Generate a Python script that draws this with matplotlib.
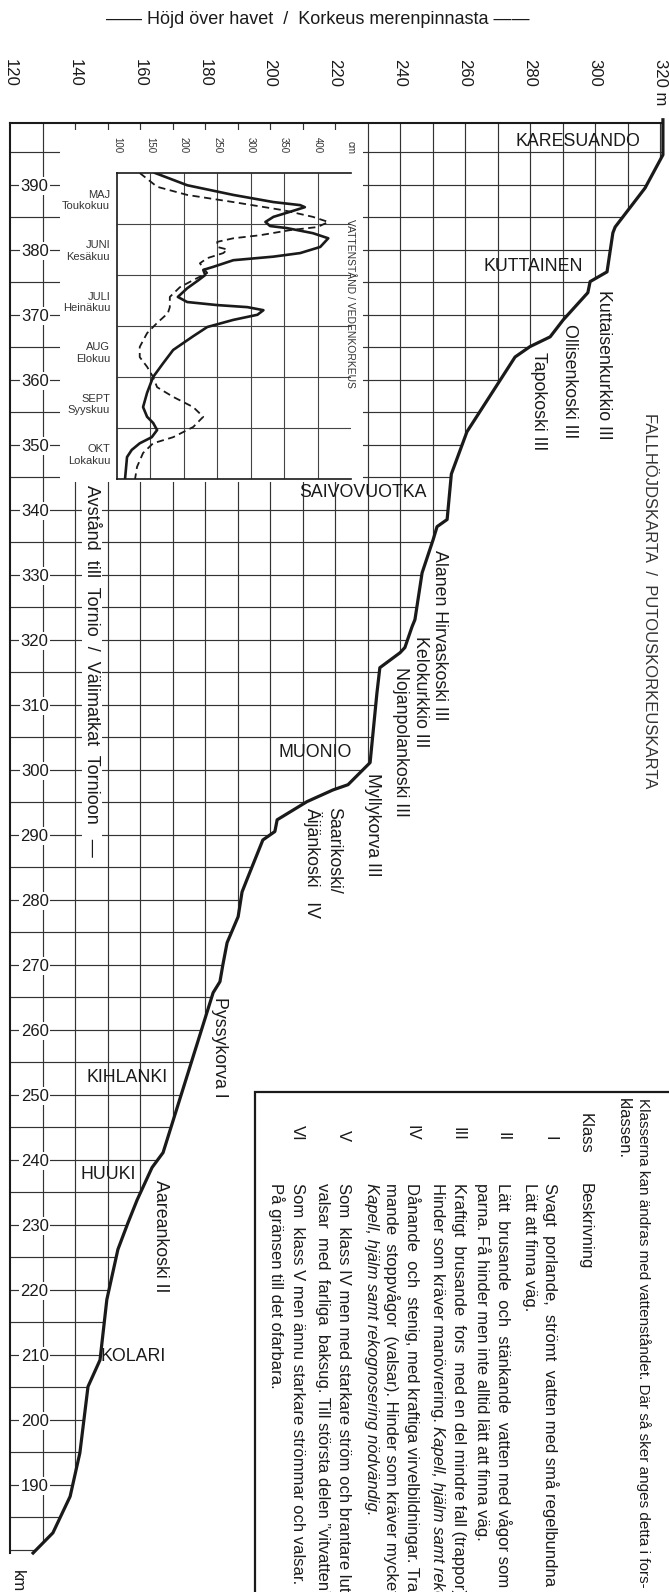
import numpy as np
import matplotlib
matplotlib.use('Agg')
import matplotlib.pyplot as plt
from matplotlib.patches import Polygon, Rectangle
from matplotlib.text import Annotation

plt.rcParams['font.family'] = ['Liberation Sans', 'DejaVu Sans']

# --- data -----------------------------------------------------------------
# river profile: distance to Tornio (km) and height above sea level (m)
profile_km = [400, 394.6, 389.5, 383.5, 382.6, 376.6, 375.1, 373.4, 369.2, 366.6,
              365.1, 363.5, 352.0, 345.5, 338.5, 337.4, 335.4, 330.3, 323.1, 322.0,
              318.8, 318.0, 315.7, 311.8, 301.1, 297.7, 296.9, 295.1, 292.3, 290.5,
              289.2, 283.1, 281.2, 277.4, 273.4, 270.0, 267.4, 265.7, 241.1, 238.8,
              233.8, 230.3, 226.2, 218.5, 209.2, 208.2, 205.1, 194.9, 188.2, 182.6,
              179.5]
profile_m = [320.9, 320.9, 315.4, 306.2, 305.5, 303.7, 298.5, 297.8, 290.2, 286.2,
             280.0, 275.4, 260.6, 255.8, 254.5, 251.4, 250.2, 246.8, 244.6, 243.7,
             241.5, 240.0, 233.8, 232.9, 230.8, 224.0, 219.4, 211.4, 202.2, 201.5,
             197.8, 192.9, 191.4, 190.2, 186.8, 185.5, 184.6, 182.5, 167.1, 163.7,
             159.1, 156.3, 153.2, 149.8, 147.7, 146.8, 144.0, 141.5, 138.5, 133.2,
             127.1]

height_ticks = [120, 140, 160, 180, 200, 220, 240, 260, 280, 300, 320]
height_labels = ['120', '140', '160', '180', '200', '220', '240', '260', '280', '300', '320 m']
km_ticks = list(range(190, 391, 10))

# water level inset: months since 1 May, level in cm
months = ['MAJ\nToukokuu', 'JUNI\nKesäkuu', 'JULI\nHeinäkuu',
          'AUG\nElokuu', 'SEPT\nSyyskuu', 'OKT\nLokakuu']
level_ticks = [100, 150, 200, 250, 300, 350, 400]
solid_t = [0.0, 0.24, 0.43, 0.57, 0.63, 0.67, 0.76, 0.86, 0.96, 1.04, 1.08, 1.18,
           1.28, 1.45, 1.57, 1.64, 1.71, 1.84, 1.90, 2.0, 2.1, 2.26, 2.43, 2.53,
           2.59, 2.63, 2.69, 2.78, 2.88, 3.02, 3.2, 3.47, 3.73, 4.0, 4.31, 4.59,
           4.78, 4.9, 5.04, 5.18, 5.3, 5.43, 5.57, 6.0]
solid_cm = [157, 205, 274, 334, 374, 381, 359, 334, 322, 329, 354, 393,
            416, 404, 374, 334, 274, 244, 229, 232, 222, 205, 191, 205,
            250, 295, 319, 310, 274, 235, 214, 184, 169, 154, 145, 139,
            145, 154, 160, 152, 134, 122, 115, 112]
dashed_t = [0.0, 0.27, 0.43, 0.57, 0.73, 0.86, 0.96, 1.06, 1.12, 1.22, 1.28, 1.35,
            1.45, 1.5, 1.57, 1.67, 1.77, 1.86, 1.96, 2.1, 2.24, 2.43, 2.63, 2.75,
            2.94, 3.14, 3.41, 3.61, 3.8, 4.0, 4.2, 4.39, 4.59, 4.78, 4.98, 5.18,
            5.3, 5.49, 5.76, 6.0]
dashed_cm = [134, 160, 205, 274, 349, 393, 416, 400, 359, 314, 274, 250,
             250, 265, 259, 235, 224, 229, 235, 214, 194, 179, 179, 176,
             160, 145, 134, 134, 145, 154, 160, 184, 214, 229, 214, 184,
             154, 139, 130, 127]

towns = ['KARESUANDO', 'KUTTAINEN', 'SAIVOVUOTKA', 'MUONIO', 'KIHLANKI', 'HUUKI', 'KOLARI']
rapids = ['Kuttaisenkurkkio III', 'Ollisenkoski III', 'Tapokoski III',
          'Alanen Hirvaskoski III', 'Kelokurkkio III', 'Nojanpolankoski III',
          'Myllykorva III', 'Saarikoski/\nÄijänkoski   IV', 'Pyssykorva I',
          'Aareankoski II']

classes = ['I', 'II', 'III', 'IV', 'V', 'VI']
class_text = [
    ['Svagt porlande, strömt vatten med små regelbundna', 'Lätt att finna väg.'],
    ['Lätt brusande och stänkande vatten med vågor som',
     'parna. Få hinder men inte alltid lätt att finna väg.'],
    ['Kraftigt brusande fors med en del mindre fall (trappor).',
     'Hinder som kräver manövrering. '],
    ['Dånande och stenig, med kraftiga virvelbildningar. Tra-',
     'mande stoppvågor (valsar). Hinder som kräver mycket'],
    ['Som klass IV men med starkare ström och brantare lut-',
     'valsar med farliga baksug. Till största delen \u201dvitvatten\u201d.'],
    ['Som klass V men ännu starkare strömmar och valsar.', 'På gränsen till det ofarbara.'],
]

# --- layout ---------------------------------------------------------------
W, H = 669, 1592
INK = '#1a1a1a'


def fx(x):
    return x / W


def fy(y):
    return 1 - y / H


fig = plt.figure(figsize=(W / 100, H / 100), dpi=100)
renderer = fig.canvas.get_renderer()

ax = fig.add_axes([fx(10), fy(1553), 653 / W, 1430 / H])
ax.set_xlim(120, 120 + 653 / 3.25)
ax.set_ylim(179.5, 399.5)
ax.patch.set_alpha(0)
for s in ['right', 'bottom']:
    ax.spines[s].set_visible(False)
for s in ['left', 'top']:
    ax.spines[s].set_linewidth(1.5)
    ax.spines[s].set_color(INK)

# grid only below the profile
clip = Polygon([(120, 399.5)] + list(zip(profile_m, profile_km)) + [(120, profile_km[-1])],
               closed=True, transform=ax.transData)
vl = ax.vlines(np.arange(130, 321, 10), 179.5, 399.5, color='#333333', lw=0.85, zorder=1)
hl = ax.hlines(np.arange(180, 399, 5), 120, 321, color='#333333', lw=0.85, zorder=1)
vl.set_clip_path(clip)
hl.set_clip_path(clip)

ax.plot(profile_m, profile_km, color=INK, lw=2.3, solid_joinstyle='round',
        clip_on=False, zorder=3)

ax.set_xticks([])
ax.set_yticks(km_ticks)
ax.tick_params(axis='y', length=0, pad=-27.8, labelsize=12, labelcolor=INK)
for lab in ax.get_yticklabels():
    lab.set_bbox(dict(facecolor='white', edgecolor='none', pad=1.0))

for v, lab in zip(height_ticks, height_labels):
    ax.text(v, 409.4, lab, rotation=-90, ha='center', va='top', fontsize=12,
            color=INK, clip_on=False)

ax.text(214.8, 415.4, '\u2014\u2014 Höjd över havet  /  Korkeus merenpinnasta \u2014\u2014',
        ha='center', va='center', fontsize=13, color=INK, clip_on=False)

# town names (horizontal)
town_pos = [(294.8, 396.6, 'center'), (280.9, 377.4, 'center'), (228.6, 342.6, 'center'),
            (213.8, 302.6, 'center'), (156.0, 252.6, 'center'), (150.2, 237.7, 'center'),
            (147.9, 209.7, 'left')]
for name, (h, km, ha) in zip(towns, town_pos):
    ax.text(h, km, name, ha=ha, va='center', fontsize=12.8, color=INK, zorder=4)

# rapid names (rotated)
rapid_pos = [(302.5, 373.8), (292.3, 368.5), (282.5, 364.3), (252.3, 333.8),
             (246.2, 320.5), (240.0, 315.8), (231.4, 299.5), (216.3, 294.3),
             (184.6, 265.1), (166.2, 236.9)]
for name, (h, km) in zip(rapids, rapid_pos):
    ax.text(h, km, name, rotation=-90, ha='center', va='top', fontsize=12.8,
            color=INK, multialignment='left', zorder=4, clip_on=False)

ax.text(145.2, 343.8, 'Avstånd  till  Tornio  /  Välimatkat  Tornioon   \u2014',
        rotation=-90, ha='center', va='top', fontsize=13, color=INK, zorder=4,
        bbox=dict(facecolor='white', edgecolor='none', pad=1.0))
ax.text(316.9, 354.9, 'FALLHÖJDSKARTA  /  PUTOUSKORKEUSKARTA', rotation=-90,
        ha='center', va='top', fontsize=12, color='#333333', clip_on=False)
ax.text(122.2, 176.9, 'km', rotation=-90, ha='center', va='top', fontsize=12,
        color=INK, clip_on=False)

# --- water level inset ----------------------------------------------------
ax.add_patch(Rectangle((135.4, 344.2), 93.2, 54.3, facecolor='white',
                       edgecolor='none', zorder=1.5))

iax = fig.add_axes([fx(117), fy(479), 234 / W, 306 / H])
iax.set_xlim(100, 450)
iax.set_ylim(6, 0)
iax.patch.set_alpha(0)
iax.spines['right'].set_visible(False)
for s in ['left', 'top', 'bottom']:
    iax.spines[s].set_linewidth(1.2)
    iax.spines[s].set_color(INK)
iax.vlines(level_ticks[1:], 0, 6, color='#444444', lw=0.8)
iax.hlines(range(1, 6), 100, 450, color='#444444', lw=0.8)
iax.plot(solid_cm, solid_t, color=INK, lw=1.9, solid_joinstyle='round')
iax.plot(dashed_cm, dashed_t, color=INK, lw=1.3, ls=(0, (4, 2.5)))

iax.xaxis.tick_top()
iax.set_xticks(level_ticks + [450])
iax.set_xticklabels([str(v) for v in level_ticks] + ['cm'], rotation=-90, fontsize=7)
iax.tick_params(axis='x', length=0, pad=14, labelcolor='#333333')
iax.set_yticks(np.arange(len(months)) + 0.5)
iax.set_yticklabels(months, fontsize=8, linespacing=1.15)
iax.tick_params(axis='y', length=0, pad=5, labelcolor='#333333')

fig.text(fx(350), fy(303), 'VATTENSTÅND / VEDENKORKEUS', rotation=-90,
         ha='center', va='center', fontsize=7.5, color='#333333')

# --- class description box -----------------------------------------------
fig.add_artist(Rectangle((fx(255), -0.05), 1, fy(1092) + 0.05, transform=fig.transFigure,
                         fill=False, edgecolor=INK, lw=1.6))

box_fs = 12


def column_line(x, y, s, end_y=None, **kw):
    # rotated text line; with end_y the word gaps are widened (justified column)
    t = fig.text(fx(x), fy(y), s, rotation=-90, ha='center', va='top', color=INK, **kw)
    if end_y is None:
        return t
    words = s.split(' ')
    gaps = [1] * (len(words) - 1)
    i = 0
    while t.get_window_extent(renderer).height < end_y - y and i < 300:
        gaps[i % len(gaps)] += 1
        t.set_text(''.join(w + ' ' * g for w, g in zip(words, gaps + [0])))
        i += 1
    return t


column_line(643, 1098, 'Klasserna kan ändras med vattenståndet. Där så sker anges detta i fors-',
            fontsize=11)
column_line(623, 1098, 'klassen.', fontsize=box_fs)
column_line(585, 1113, 'Klass', fontsize=box_fs)
column_line(585, 1183, 'Beskrivning', fontsize=box_fs)

class_x = [550, 503, 458, 412, 343, 297]
line_ends = [[1585, None], [1585, None], [1596, None], [1596, 1594], [1596, 1598], [1584, None]]
for num, lines, x, ends in zip(classes, class_text, class_x, line_ends):
    fig.text(fx(x), fy(1141), num, rotation=-90, ha='center', va='bottom',
             fontsize=box_fs, color=INK)
    texts = []
    for i, (line, end) in enumerate(zip(lines, ends)):
        texts.append(column_line(x - 20.5 * i, 1183, line, end, fontsize=box_fs))
    if num == 'III':
        fig.add_artist(Annotation('Kapell, hjälm samt rekognosering.', xy=(0.5, 0),
                                  xycoords=texts[1], rotation=-90, ha='center', va='top',
                                  fontsize=box_fs, style='italic', color=INK))
    if num == 'IV':
        column_line(x - 41, 1183, 'Kapell, hjälm samt rekognosering nödvändig.',
                    fontsize=box_fs, style='italic')

fig.savefig('out.png', dpi=100, facecolor='white')
